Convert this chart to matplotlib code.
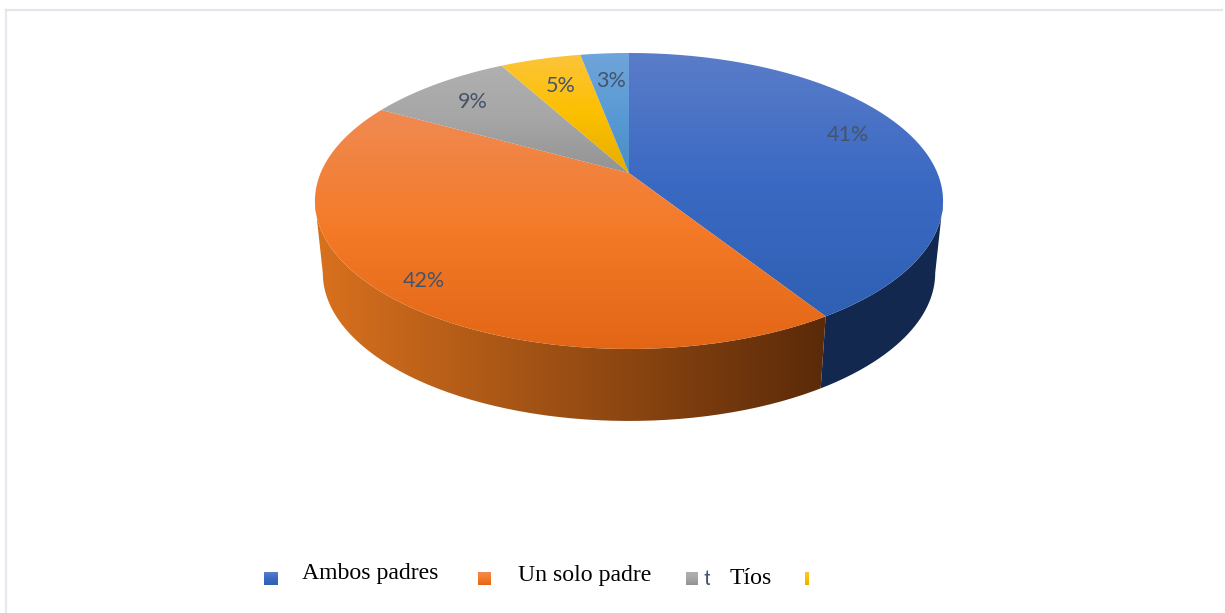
import numpy as np
import matplotlib
matplotlib.use("Agg")
import matplotlib.pyplot as plt
from matplotlib.colors import LinearSegmentedColormap
from matplotlib.patches import PathPatch
from matplotlib.path import Path
from matplotlib.transforms import Bbox, TransformedBbox

categories = ["Ambos padres", "Un solo padre", "Tíos", "Otros"]
values = [41, 42, 9, 5, 3]
labels = ["41%", "42%", "9%", "5%", "3%"]
top_colors = [
    ["#5b7dc9", "#3a69c3", "#2f60b3"],
    ["#f08a52", "#f47a28", "#e26615"],
    ["#b0b0b0", "#a6a6a6", "#939393"],
    ["#fcc43c", "#fcc000", "#e4ac00"],
    ["#70a5da", "#5a9bd5", "#4a8cc4"],
]
side_colors = [
    ["#14284e", "#13294f"],
    ["#da721e", "#5a2a09"],
]
label_pos = [(848, 135), (424, 281), (473, 102), (561, 86), (611, 81)]

W, H = 1225, 613
CX, CY = 629, 173
SX, SY, K = 308.4, 142.7, 0.189
DEPTH, SHRINK = 72, 0.975

fig = plt.figure(figsize=(W / 100, H / 100), dpi=100)
ax = fig.add_axes([0, 0, 1, 1])
ax.set_xlim(0, W)
ax.set_ylim(H, 0)
ax.axis("off")


def rim(theta, lower=False):
    u, v = np.sin(theta), -np.cos(theta)
    d = 1 - K * v
    x, y = SX * u / d, SY * v / d
    if lower:
        return CX + SHRINK * x, CY + y + DEPTH
    return CX + x, CY + y


def gradient(colors, extent, vertical, path, z):
    cmap = LinearSegmentedColormap.from_list("g", colors)
    g = np.linspace(0, 1, 256)
    g = g[:, None] if vertical else g[None, :]
    im = ax.imshow(g, cmap=cmap, extent=extent, aspect="auto", zorder=z,
                   interpolation="bilinear")
    patch = PathPatch(path, fc="none", ec="none", transform=ax.transData)
    ax.add_patch(patch)
    im.set_clip_path(patch)


edges = 2 * np.pi * np.cumsum([0] + values) / sum(values)

# side walls: from the widest point of the rim on each side to the split
wall_start = np.pi - np.arccos(K)
wall_end = 2 * np.pi - wall_start
walls = [(wall_start, edges[1], (815, 950)), (edges[1], wall_end, (310, 826))]
for i, (a, b, (left, right)) in enumerate(walls):
    t = np.linspace(a, b, 160)
    x1, y1 = rim(t)
    x2, y2 = rim(t[::-1], lower=True)
    path = Path(np.column_stack([np.r_[x1, x2], np.r_[y1, y2]]))
    gradient(side_colors[i], (left, right, 425, 190), False, path, 2)

# top faces
for i in range(len(values)):
    t = np.linspace(edges[i], edges[i + 1], 160)
    x, y = rim(t)
    xs, ys = np.r_[CX, x, CX], np.r_[CY, y, CY]
    path = Path(np.column_stack([xs, ys]))
    gradient(top_colors[i], (xs.min() - 2, xs.max() + 2, ys.max() + 1, ys.min() - 1),
             True, path, 3)

for (x, y), s in zip(label_pos, labels):
    ax.text(x, y, s, fontsize=15.5, family="Lato", color="#44546a",
            ha="center", va="center", zorder=5)

# frame
ax.plot([6, 6], [H, 10], color="#e6e9ef", lw=1.6, zorder=1)
ax.plot([6, 1222], [10, 10], color="#e2e5ec", lw=1.6, zorder=1)

# legend
leg_boxes = [(264, 572, 14, 13), (478, 572, 13, 13), (686, 572, 12, 13), (805, 572, 4, 13)]
for (x, y, w, h), c in zip(leg_boxes, top_colors):
    cmap = LinearSegmentedColormap.from_list("l", c)
    ax.imshow(np.linspace(0, 1, 32)[:, None], cmap=cmap, extent=(x, x + w, y + h, y),
              aspect="auto", zorder=4)
legend_text = [(302, 574), (518, 576), (730, 579)]
for (x, y), s in zip(legend_text, categories):
    ax.text(x, y, s, fontsize=17.1, family="Liberation Serif",
            color="black", va="center", ha="left")
stub = ax.text(704, 579, "t", fontsize=15, family="Lato", color="#44546a",
               va="center", ha="left", clip_on=True)
stub.set_clip_box(TransformedBbox(Bbox([[700, 560], [709.5, 600]]), ax.transData))

ax.set_xlim(0, W)
ax.set_ylim(H, 0)
fig.savefig("out.png", dpi=100, facecolor="white")
